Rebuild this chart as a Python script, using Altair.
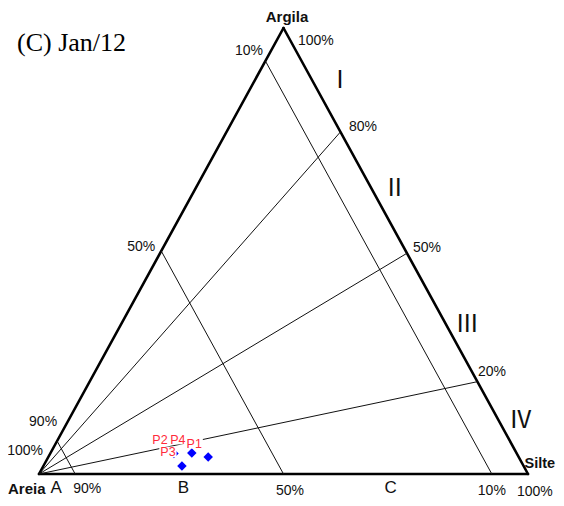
import altair as alt
import pandas as pd

# ---------------- data ----------------
samples = ["P1", "P2", "P3", "P4"]
sand = [63.5, 70.1, 69.8, 66.4]
silt = [32.7, 25.3, 28.3, 28.9]
clay = [3.8, 4.6, 1.8, 4.7]

# lines of constant sand content (as drawn)
sand_line_labels = ["90%", "50%", "10%"]
sand_line_pos = [0.926, 0.50, 0.074]
# rays from the Areia corner: clay/(silt+clay) where they meet the right side
ratio_line_labels = ["80%", "50%", "20%"]
ratio_line_pos = [0.767, 0.495, 0.207]

sand_classes = ["A", "B", "C"]
mud_classes = ["\u2160", "\u2161", "\u2162", "\u2163"]
vertex_names = ["Areia", "Silte", "Argila"]
title_text = "(C) Jan/12"


def tern(sa, si, cl):
    tot = sa + si + cl
    return (si + cl / 2.0) / tot, cl / tot


W, H = 548, 490
xs = alt.Scale(domain=[-31 / 489, (W - 31) / 489], nice=False, zero=False)
ys = alt.Scale(domain=[-24 / 446, 466 / 446], nice=False, zero=False)

# vertices
A = tern(1, 0, 0)
S = tern(0, 1, 0)
T = tern(0, 0, 1)

edges = pd.DataFrame(
    [[*A, *S], [*S, *T], [*T, *A]], columns=["X", "Y", "X2", "Y2"]
)

inner_rows = []
for s in sand_line_pos:
    b = tern(s, 1 - s, 0)
    l = tern(s, 0, 1 - s)
    inner_rows.append([*b, *l])
for t in ratio_line_pos:
    r = tern(0, 1 - t, t)
    inner_rows.append([*A, *r])
inner = pd.DataFrame(inner_rows, columns=["X", "Y", "X2", "Y2"])

pts = pd.DataFrame({"name": samples, "sand": sand, "silt": silt, "clay": clay})
pts["X"] = [tern(a, b, c)[0] for a, b, c in zip(sand, silt, clay)]
pts["Y"] = [tern(a, b, c)[1] for a, b, c in zip(sand, silt, clay)]

X_ = alt.X("X:Q", scale=xs, axis=None)
Y_ = alt.Y("Y:Q", scale=ys, axis=None)

edge_layer = alt.Chart(edges).mark_rule(strokeWidth=2.6, color="black", strokeCap="round").encode(
    x=X_, y=Y_, x2="X2:Q", y2="Y2:Q")
inner_layer = alt.Chart(inner).mark_rule(strokeWidth=1, color="#111").encode(
    x=X_, y=Y_, x2="X2:Q", y2="Y2:Q")
point_layer = alt.Chart(pts).mark_point(shape="diamond", filled=True, color="#0000ff",
                                        size=90, opacity=1).encode(x=X_, y=Y_)

box_path = "M-1,-0.62L1,-0.62L1,0.62L-1,0.62Z"
box_layer = alt.Chart(pts).mark_point(shape=box_path, filled=True, color="white", opacity=1,
                                      size=300, xOffset=-14, yOffset=-14).encode(x=X_, y=Y_)
plabel_layer = alt.Chart(pts).mark_text(font="Liberation Sans", fontSize=12.5, color="#ff2a3a",
                                        dx=-14, dy=-13.5, align="center", baseline="middle").encode(
    x=X_, y=Y_, text="name:N")


def label(text, P, dx, dy, align="center", size=14, weight="normal", color="#111",
          font="Liberation Sans", baseline="middle"):
    df = pd.DataFrame({"X": [P[0]], "Y": [P[1]], "t": [text]})
    return alt.Chart(df).mark_text(dx=dx, dy=dy, align=align, baseline=baseline, fontSize=size,
                                   fontWeight=weight, color=color, font=font).encode(
        x=X_, y=Y_, text="t:N")


layers = [edge_layer, inner_layer, point_layer, box_layer, plabel_layer]

# vertex names and 100% marks
layers.append(label(vertex_names[2], T, 3.5, -11.5, size=15, weight="bold"))
layers.append(label("100%", T, 14.5, 12.5, align="left"))
layers.append(label(vertex_names[0], A, -31, 15, align="left", size=15, weight="bold"))
layers.append(label("100%", A, 4, -23, align="right"))
layers.append(label(vertex_names[1], S, -3.5, -10.5, align="left", size=14.5, weight="bold"))
layers.append(label("100%", S, -11, 17.5, align="left"))

# sand line labels
s_bottom = [tern(s, 1 - s, 0) for s in sand_line_pos]
s_left = [tern(s, 0, 1 - s) for s in sand_line_pos]
layers.append(label(sand_line_labels[0], s_bottom[0], -2, 15, align="left"))
layers.append(label(sand_line_labels[1], s_bottom[1], -7.5, 17, align="left"))
layers.append(label(sand_line_labels[2], s_bottom[2], -14, 16.5, align="left"))
layers.append(label(sand_line_labels[0], s_left[0], 0, -19, align="right"))
layers.append(label(sand_line_labels[1], s_left[1], -6, -4, align="right"))
layers.append(label(sand_line_labels[2], s_left[2], -2.4, -10, align="right"))

# ratio line labels
r_end = [tern(0, 1 - t, t) for t in ratio_line_pos]
layers.append(label(ratio_line_labels[0], r_end[0], 8.5, -5, align="left"))
layers.append(label(ratio_line_labels[1], r_end[1], 6, -5.7, align="left"))
layers.append(label(ratio_line_labels[2], r_end[2], 0.6, -9.2, align="left"))

# sand classes along the bottom (centred between sand lines)
bounds = [1.0] + sand_line_pos
zA = tern((bounds[0] + bounds[1]) / 2, 1 - (bounds[0] + bounds[1]) / 2, 0)
zB = tern((bounds[1] + bounds[2]) / 2, 1 - (bounds[1] + bounds[2]) / 2, 0)
zC = tern((bounds[2] + bounds[3]) / 2, 1 - (bounds[2] + bounds[3]) / 2, 0)
boxA = alt.Chart(pd.DataFrame({"X": [zA[0]], "Y": [zA[1]]})).mark_point(
    shape="M-1,-1L1,-1L1,1L-1,1Z", filled=True, color="white", opacity=1, size=400,
    xOffset=0, yOffset=22).encode(x=X_, y=Y_)
layers.append(boxA)
layers.append(label(sand_classes[0], zA, -1, 19, size=17, color="#111", baseline="alphabetic"))
layers.append(label(sand_classes[1], zB, 4, 19, size=17, color="#111", baseline="alphabetic"))
layers.append(label(sand_classes[2], zC, 3, 19, size=17, color="#111", baseline="alphabetic"))

# mud classes along the right side (centred between rays)
rb = [1.0] + ratio_line_pos + [0.0]
mids = [(rb[i] + rb[i + 1]) / 2 for i in range(4)]
mpos = [tern(0, 1 - m, m) for m in mids]
moff = [(28, 1), (21, -4), (25, 8), (18, -7)]
for txt, p, (ddx, ddy) in zip(mud_classes, mpos, moff):
    layers.append(label(txt, p, ddx, ddy, size=24, color="#111", font="Noto Sans CJK JP"))

title = alt.Chart(pd.DataFrame({"t": [title_text]})).mark_text(
    font="Liberation Serif", fontSize=26, align="left", baseline="alphabetic", color="black").encode(
    x=alt.value(9), y=alt.value(43), text="t:N")
layers.append(title)

chart = alt.layer(*layers).properties(
    width=W, height=H, padding=0, autosize="none"
).configure_view(stroke=None)

chart.save("out.html", embed_options={"renderer": "svg", "actions": False})
